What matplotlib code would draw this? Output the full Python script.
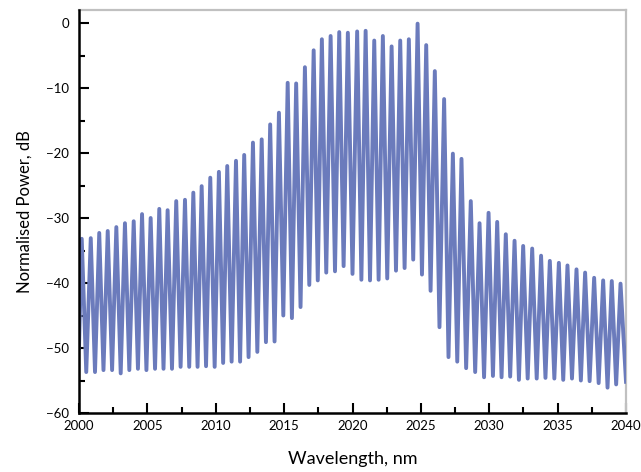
import numpy as np
import matplotlib
matplotlib.use("Agg")
import matplotlib.pyplot as plt
from matplotlib.ticker import MultipleLocator

plt.rcParams['font.family'] = ['Lato', 'DejaVu Sans']

# fringe maxima
peak_nm = [2000.20, 2000.86, 2001.48, 2002.10, 2002.73, 2003.36, 2004.00, 2004.61, 2005.24, 2005.87,
           2006.48, 2007.11, 2007.75, 2008.36, 2008.97, 2009.60, 2010.23, 2010.84, 2011.48, 2012.08,
           2012.72, 2013.36, 2013.98, 2014.62, 2015.26, 2015.88, 2016.52, 2017.16, 2017.76, 2018.40,
           2019.03, 2019.66, 2020.34, 2020.96, 2021.59, 2022.22, 2022.86, 2023.49, 2024.12, 2024.76,
           2025.39, 2026.02, 2026.70, 2027.34, 2027.97, 2028.65, 2029.29, 2029.95, 2030.58, 2031.21,
           2031.85, 2032.48, 2033.14, 2033.79, 2034.43, 2035.09, 2035.72, 2036.38, 2037.01, 2037.67,
           2038.33, 2038.96, 2039.60]
peak_db = [-33.2, -33.1, -32.3, -32.0, -31.4, -30.8, -30.5, -29.4, -30.0, -28.6,
           -28.8, -27.4, -27.2, -26.1, -25.1, -23.8, -22.9, -22.0, -21.2, -20.3,
           -18.4, -17.9, -15.6, -13.8, -9.2, -9.3, -6.8, -4.2, -2.5, -2.0,
           -1.4, -1.5, -1.3, -1.2, -2.7, -2.0, -3.6, -2.7, -2.5, -0.1,
           -3.4, -7.4, -11.7, -20.1, -20.9, -27.4, -30.8, -29.2, -30.6, -32.5,
           -33.5, -34.3, -34.7, -35.8, -36.6, -36.9, -37.3, -37.9, -38.4, -39.2,
           -39.6, -39.7, -40.1]

# fringe minima (first and last are the ends of the trace)
trough_nm = [2000.00, 2000.53, 2001.17, 2001.79, 2002.42, 2003.05, 2003.68, 2004.31, 2004.93, 2005.56,
             2006.18, 2006.80, 2007.43, 2008.06, 2008.67, 2009.29, 2009.92, 2010.54, 2011.16, 2011.78,
             2012.40, 2013.04, 2013.67, 2014.30, 2014.94, 2015.57, 2016.20, 2016.84, 2017.46, 2018.08,
             2018.72, 2019.35, 2020.00, 2020.65, 2021.28, 2021.91, 2022.54, 2023.18, 2023.81, 2024.44,
             2025.08, 2025.71, 2026.36, 2027.02, 2027.66, 2028.31, 2028.97, 2029.62, 2030.27, 2030.90,
             2031.53, 2032.17, 2032.81, 2033.47, 2034.11, 2034.76, 2035.41, 2036.05, 2036.70, 2037.34,
             2038.00, 2038.65, 2039.28, 2040.00]
trough_db = [-50.0, -53.7, -53.7, -53.4, -53.4, -53.9, -53.4, -53.2, -53.4, -53.2,
             -53.2, -53.2, -52.9, -52.9, -52.9, -52.8, -52.9, -52.3, -52.1, -52.1,
             -51.4, -50.6, -49.1, -49.0, -45.0, -45.4, -43.7, -40.3, -39.6, -38.4,
             -38.2, -37.4, -38.6, -39.5, -39.6, -39.5, -39.3, -38.1, -37.7, -36.4,
             -38.7, -41.2, -46.8, -51.4, -52.1, -53.1, -53.7, -54.5, -54.3, -54.5,
             -54.4, -54.9, -54.7, -54.7, -54.6, -54.7, -54.9, -54.7, -55.0, -55.1,
             -55.4, -56.1, -55.6, -55.2]

x = np.concatenate([peak_nm, trough_nm])
y = np.concatenate([peak_db, trough_db])
order = np.argsort(x)
x, y = x[order], y[order]

fig = plt.figure(figsize=(6.41, 4.72), dpi=100)
ax = fig.add_axes([79 / 641, 59 / 472, 547 / 641, 403 / 472])

ax.plot(x, y, color='#6b7bbc', lw=2.8, solid_joinstyle='round', zorder=3)

ax.set_xlim(2000, 2040)
ax.set_ylim(-60, 2)
ax.xaxis.set_major_locator(MultipleLocator(5))
ax.xaxis.set_minor_locator(MultipleLocator(2.5))
ax.yaxis.set_major_locator(MultipleLocator(10))
ax.yaxis.set_minor_locator(MultipleLocator(5))

ax.tick_params(which='both', direction='in', top=False, right=False, width=1.5, color='black',
               labelsize=9.5)
ax.tick_params(which='major', length=7)
ax.tick_params(which='minor', length=4)
ax.tick_params(axis='y', pad=7)
ax.tick_params(axis='x', pad=5)

for s in ['left', 'bottom']:
    ax.spines[s].set_color('black')
    ax.spines[s].set_linewidth(1.8)
    ax.spines[s].set_zorder(4)
for s in ['top', 'right']:
    ax.spines[s].set_color('#c0c0c0')
    ax.spines[s].set_linewidth(1.6)

ax.set_xlabel("Wavelength, nm", fontsize=13, labelpad=14)
ax.set_ylabel("Normalised Power, dB", fontsize=12, labelpad=10)

fig.savefig("out.png", dpi=100)
